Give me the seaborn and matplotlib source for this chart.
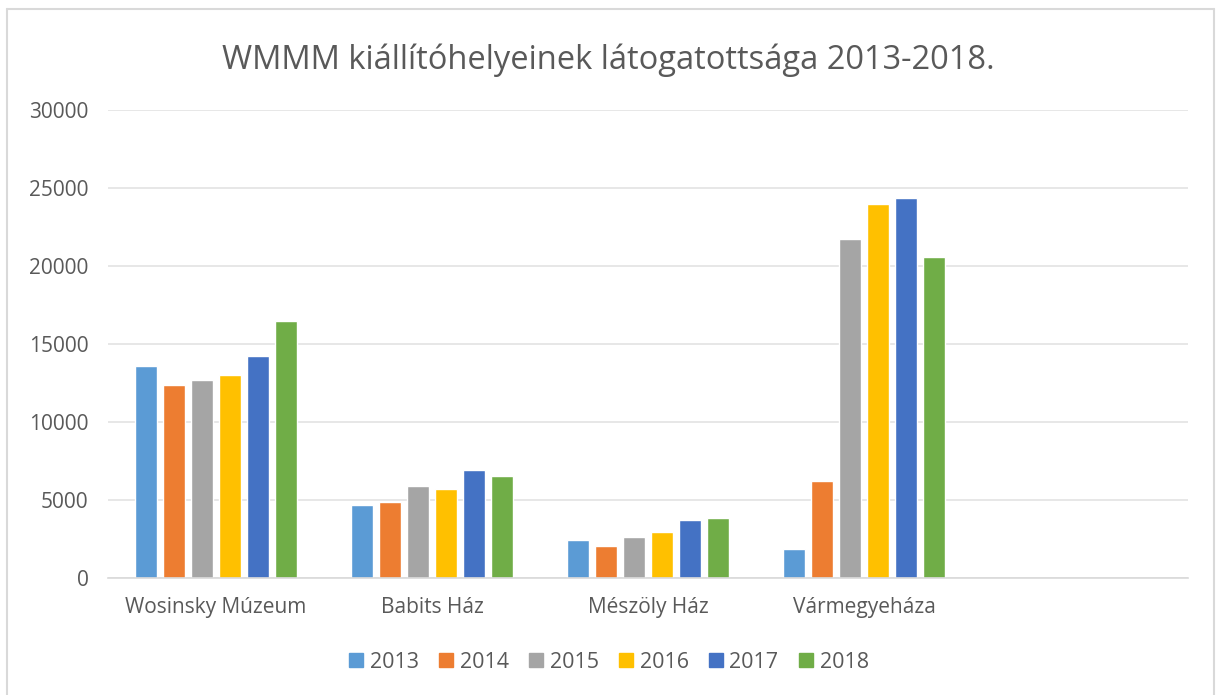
import pandas as pd
import matplotlib.pyplot as plt
import seaborn as sns
from matplotlib.lines import Line2D

sites = ["Wosinsky Múzeum", "Babits Ház", "Mészöly Ház", "Vármegyeháza"]
years = ["2013", "2014", "2015", "2016", "2017", "2018"]
v2013 = [13600, 4650, 2450, 1850]
v2014 = [12350, 4900, 2070, 6200]
v2015 = [12700, 5900, 2600, 21700]
v2016 = [13000, 5700, 2950, 24000]
v2017 = [14250, 6950, 3750, 24350]
v2018 = [16450, 6550, 3850, 20550]
colors = ["#5b9bd5", "#ed7d31", "#a5a5a5", "#ffc000", "#4472c4", "#70ad47"]

rows = []
for year, vals in zip(years, [v2013, v2014, v2015, v2016, v2017, v2018]):
    for site, v in zip(sites, vals):
        rows.append({"site": site, "year": year, "visitors": v})
df = pd.DataFrame(rows)

sns.set_style("white")
plt.rcParams['font.family'] = ['Open Sans', 'DejaVu Sans']
txt = "#595959"

fig = plt.figure(figsize=(12.17, 6.95), dpi=100)
ax = fig.add_axes([108 / 1217, 1 - 578 / 695, 1080 / 1217, 468 / 695])

sns.barplot(data=df, x="site", y="visitors", hue="year", order=sites,
            hue_order=years, palette=colors, width=0.78, gap=0.23,
            saturation=1, ax=ax, legend=False)

# Excel-style empty fifth category slot
ax.set_xlim(-0.5, 4.5)
ax.set_ylim(0, 30000)
ax.set_yticks(range(0, 30001, 5000))
ax.yaxis.grid(True, color="#e3e3e3", linewidth=1.2)
ax.set_axisbelow(True)
for s in ["top", "right", "left"]:
    ax.spines[s].set_visible(False)
ax.spines["bottom"].set_color("#d9d9d9")
ax.spines["bottom"].set_linewidth(1.2)
ax.tick_params(axis="both", length=0, labelsize=15, colors=txt)
ax.tick_params(axis="x", pad=14)
ax.tick_params(axis="y", pad=14)
ax.set_xlabel("")
ax.set_ylabel("")

fig.text(0.5, 1 - 60 / 695, "WMMM kiállítóhelyeinek látogatottsága 2013-2018.",
         ha="center", va="center", fontsize=23.5, color=txt)

handles = [Line2D([], [], marker="s", linestyle="", markersize=10,
                  markerfacecolor=c, markeredgecolor=c) for c in colors]
fig.legend(handles, years, loc="center", bbox_to_anchor=(0.5, 1 - 662 / 695),
           ncol=6, frameon=False, fontsize=15.5, labelcolor=txt,
           handlelength=0.7, handletextpad=0.3, columnspacing=0.9)

# thin frame around the chart like the source screenshot
fig.add_artist(Line2D([7 / 1217, 7 / 1217], [0, 1 - 9 / 695], color="#d9d9d9", lw=1.5))
fig.add_artist(Line2D([7 / 1217, 1214 / 1217], [1 - 9 / 695, 1 - 9 / 695], color="#d9d9d9", lw=1.5))
fig.add_artist(Line2D([1214 / 1217, 1214 / 1217], [0, 1 - 9 / 695], color="#d9d9d9", lw=1.5))

fig.savefig("out.png", dpi=100, facecolor="white")
